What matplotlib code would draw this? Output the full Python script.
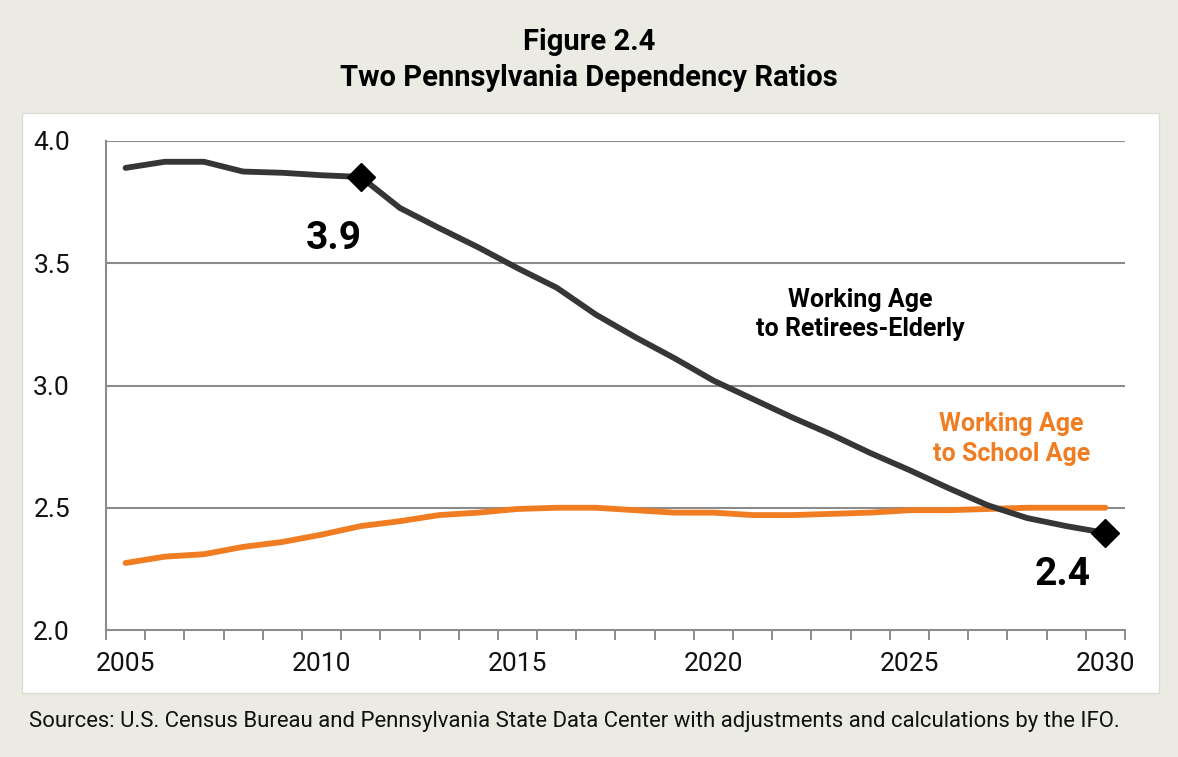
import numpy as np
import matplotlib.pyplot as plt
from matplotlib.patches import Rectangle
from matplotlib.ticker import FixedLocator

plt.rcParams['font.family'] = ['Roboto', 'DejaVu Sans']

# Datos
anios = list(range(2005, 2031))
retirados = [3.89, 3.915, 3.915, 3.875, 3.87, 3.86, 3.853, 3.726, 3.644, 3.565,
             3.48, 3.40, 3.29, 3.198, 3.112, 3.02, 2.945, 2.87, 2.80, 2.724,
             2.654, 2.58, 2.51, 2.458, 2.425, 2.397]
escolares = [2.274, 2.30, 2.31, 2.34, 2.36, 2.39, 2.425, 2.445, 2.47, 2.48,
             2.495, 2.50, 2.50, 2.49, 2.48, 2.48, 2.47, 2.47, 2.475, 2.48,
             2.49, 2.49, 2.495, 2.50, 2.50, 2.50]
etiquetas_x = [2005, 2010, 2015, 2020, 2025, 2030]
etiquetas_y = [2.0, 2.5, 3.0, 3.5, 4.0]

gris = '#8c8c8c'
negro = '#363636'
naranja = '#f07d22'

fig = plt.figure(figsize=(11.78, 7.57), dpi=100)
fig.patch.set_facecolor('#ebebe4')
fig.patches.append(Rectangle((22/1178, 1 - 693/757), (1159-22)/1178, (693-113)/757,
                             transform=fig.transFigure, facecolor='white',
                             edgecolor='#dcdcd4', lw=1, zorder=-5))

ax = fig.add_axes([106/1178, 1 - 630/757, 1019/1178, 489/757])
ax.patch.set_alpha(0)

ax.plot(anios, escolares, color=naranja, lw=4.2, solid_capstyle='round', zorder=3)
ax.plot(anios, retirados, color=negro, lw=4.2, solid_capstyle='round', zorder=4)
ax.plot([2011, 2030], [retirados[6], retirados[-1]], 'D', color='black', ms=14, zorder=5)

ax.set_xlim(2004.5, 2030.5)
ax.set_ylim(2.0, 4.0)
ax.set_yticks(etiquetas_y)
ax.set_yticklabels(['%.1f' % v for v in etiquetas_y])
ax.set_xticks(etiquetas_x)
ax.set_xticklabels([str(v) for v in etiquetas_x])
ax.xaxis.set_minor_locator(FixedLocator(np.arange(2004.5, 2031, 1)))
ax.tick_params(axis='x', which='major', length=0, pad=16, labelsize=19, colors='#111111')
ax.tick_params(axis='x', which='minor', length=7, width=1.4, color=gris, direction='out')
ax.tick_params(axis='y', length=0, pad=26, labelsize=19, colors='#111111')

for v in etiquetas_y[1:]:
    ax.axhline(v, color=gris, lw=1.5, zorder=1)
for lado in ['top', 'right']:
    ax.spines[lado].set_visible(False)
for lado in ['left', 'bottom']:
    ax.spines[lado].set_color(gris)
    ax.spines[lado].set_linewidth(1.5)

ax.text(2010.3, 3.60, '3.9', fontsize=28, fontweight='bold', ha='center', va='center')
ax.text(2028.9, 2.225, '2.4', fontsize=28, fontweight='bold', ha='center', va='center')
ax.text(2023.75, 3.29, 'Working Age\nto Retirees-Elderly', fontsize=18, fontweight='bold',
        ha='center', va='center', linespacing=1.3)
ax.text(2027.6, 2.78, 'Working Age\nto School Age', fontsize=18, fontweight='bold',
        color=naranja, ha='center', va='center', linespacing=1.3)

fig.text(0.5, 1 - 42/757, 'Figure 2.4', fontsize=21, fontweight='bold', ha='center', va='center')
fig.text(0.5, 1 - 78/757, 'Two Pennsylvania Dependency Ratios', fontsize=21, fontweight='bold',
         ha='center', va='center')
fig.text(29/1178, 1 - 722/757, 'Sources: U.S. Census Bureau and Pennsylvania State Data Center '
         'with adjustments and calculations by the IFO.', fontsize=15.9, ha='left', va='center',
         color='#111111')

fig.savefig('out.png', dpi=100, facecolor=fig.get_facecolor())
